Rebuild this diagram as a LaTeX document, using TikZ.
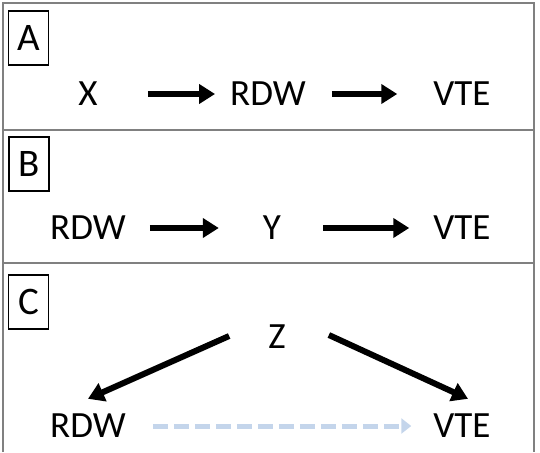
\documentclass[tikz,border=0pt]{standalone}
\usepackage{fontspec}
\setmainfont{Carlito}
\usetikzlibrary{arrows.meta}
\definecolor{framegray}{RGB}{128,128,128}
\definecolor{dashblue}{RGB}{196,213,235}
\begin{document}
\begin{tikzpicture}[x=1pt,y=-1pt,
    lbl/.style={inner sep=0pt,text height=22pt,text depth=0pt,font=\fontsize{37}{40}\selectfont},
    tag/.style={draw,line width=1.4pt,minimum width=40pt,minimum height=54pt,inner sep=0pt,font=\fontsize{39}{40}\selectfont},
    link/.style={line width=6pt,-{Triangle[length=16pt,width=19pt]}},
    maybe/.style={dashblue,line width=5pt,dash pattern=on 15pt off 6pt,-{Triangle[length=10pt,width=15pt]}}]
  \useasboundingbox (0,0) rectangle (540,452);
  \draw[framegray,line width=1.2pt]
    (3,452) -- (3,3) -- (534,3) -- (534,452)
    (3,130) -- (534,130)
    (3,263) -- (534,263);
  \draw
    (28.5,38) node[tag] (tA){A}
    (29,164) node[tag] (tB){B}
    (28.5,302) node[tag] (tC){C};
  \draw
    (88,94) node[lbl] (xA){X}
    (268,94) node[lbl] (rdwA){RDW}
    (462,94) node[lbl] (vteA){VTE}
    (88,228) node[lbl] (rdwB){RDW}
    (272,228) node[lbl] (yB){Y}
    (462,228) node[lbl] (vteB){VTE}
    (277,337) node[lbl] (zC){Z}
    (88,426) node[lbl] (rdwC){RDW}
    (462,426) node[lbl] (vteC){VTE};
  \begin{scope}[link]
    \draw[shorten <=50pt,shorten >=15pt] (xA) to (rdwA);
    \draw[shorten <=26pt,shorten >=36pt] (rdwA) to (vteA);
    \draw[shorten <=24pt,shorten >=44pt] (rdwB) to (yB);
    \draw[shorten <=42pt,shorten >=24pt] (yB) to (vteB);
    \draw ([xshift=-39pt,yshift=1pt]zC.west) to ([xshift=0pt,yshift=16pt]rdwC.north);
    \draw ([xshift=43pt,yshift=2pt]zC.east) to ([xshift=6pt,yshift=16pt]vteC.north);
  \end{scope}
  \draw[maybe,shorten <=27pt,shorten >=22pt] (rdwC) to (vteC);
\end{tikzpicture}
\end{document}
